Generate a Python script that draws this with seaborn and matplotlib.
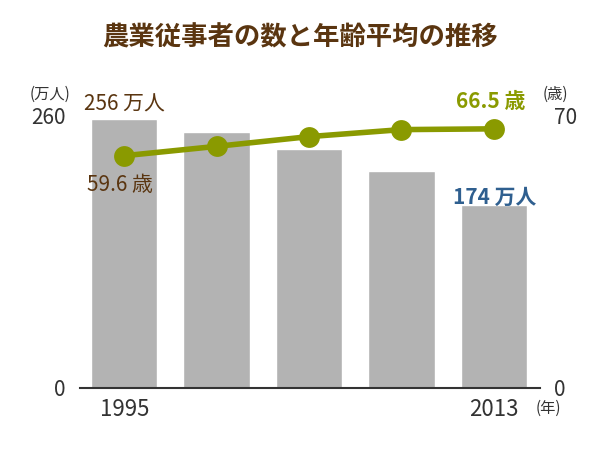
import matplotlib
matplotlib.use("Agg")
import matplotlib.pyplot as plt
import seaborn as sns
import pandas as pd

years = ["1995", "2000", "2005", "2010", "2013"]
workers = [256, 244, 228, 207, 174]
ages = [59.6, 62.0, 64.5, 66.3, 66.5]

sns.set_style("white")
plt.rcParams['font.family'] = ['Noto Sans CJK JP', 'DejaVu Sans']

fig = plt.figure(figsize=(6, 4.5), dpi=100)
ax = fig.add_axes([0.133, 0.138, 0.767, 0.606])
df = pd.DataFrame({"year": years, "workers": workers, "age": ages})
sns.barplot(data=df, x="year", y="workers", color="#b3b3b3", width=0.72, ax=ax, saturation=1)
ax.set_xlim(-0.48, 4.5)
ax.set_ylim(0, 260)
ax.set_yticks([0, 260])
ax.set_xticks([])
ax.set_xlabel(""); ax.set_ylabel("")
ax.tick_params(axis='y', labelsize=15, colors="#333333", length=0, pad=10)
for s in ["top", "left", "right"]:
    ax.spines[s].set_visible(False)
ax.spines["bottom"].set_color("#333333")
ax.spines["bottom"].set_linewidth(1.5)

ax2 = ax.twinx()
sns.lineplot(x=list(range(len(years))), y=ages, ax=ax2, color="#8a9a00", linewidth=4,
             marker="o", markersize=15, markeredgewidth=0)
ax2.set_ylim(0, 70)
ax2.set_yticks([0, 70])
ax2.tick_params(axis='y', labelsize=15, colors="#333333", length=0, pad=10)
for s in ["top", "left", "right", "bottom"]:
    ax2.spines[s].set_visible(False)
ax2.set_xlim(-0.48, 4.5)

fig.text(0.5, 0.9, "農業従事者の数と年齢平均の推移", ha="center", fontsize=19,
         fontweight="bold", color="#5a3510")
fig.text(0.05, 0.78, "(万人)", fontsize=11, color="#333333")
fig.text(0.905, 0.78, "(歳)", fontsize=11, color="#333333")
fig.text(0.893, 0.083, "(年)", fontsize=11, color="#333333")
fig.text(0.207, 0.075, years[0], ha="center", fontsize=16, color="#333333")
fig.text(0.823, 0.075, years[-1], ha="center", fontsize=16, color="#333333")
fig.text(0.14, 0.755, f"{workers[0]} 万人", fontsize=15, color="#5a3510")
fig.text(0.755, 0.548, f"{workers[-1]} 万人", fontsize=15, color="#2f5f8f", fontweight="bold")
fig.text(0.145, 0.575, f"{ages[0]} 歳", fontsize=15, color="#5a3510")
fig.text(0.76, 0.76, f"{ages[-1]} 歳", fontsize=15, color="#8a9a00", fontweight="bold")

fig.savefig("out.png", dpi=100)
